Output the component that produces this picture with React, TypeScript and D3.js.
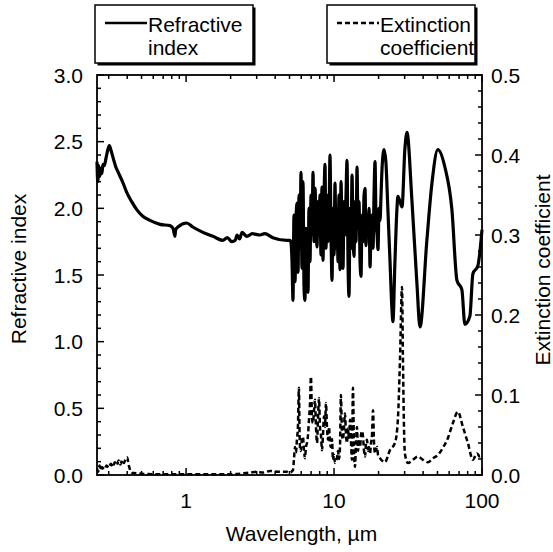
import React from "react";
import * as d3 from "d3";

// wavelength (um), refractive index n
const refractiveIndex: [number, number][] = [
  [0.25, 2.35], [0.253, 2.2], [0.257, 2.32], [0.261, 2.24], [0.265, 2.3], [0.27, 2.26],
  [0.274, 2.33], [0.28, 2.32], [0.288, 2.38], [0.296, 2.44], [0.303, 2.47], [0.31, 2.44],
  [0.321, 2.38], [0.335, 2.31], [0.348, 2.27], [0.375, 2.19], [0.397, 2.12], [0.429, 2.05],
  [0.464, 1.99], [0.51, 1.94], [0.57, 1.91], [0.667, 1.88], [0.778, 1.87], [0.816, 1.85],
  [0.841, 1.79], [0.85, 1.84], [0.88, 1.86], [1.01, 1.89], [1.11, 1.86], [1.3, 1.82],
  [1.52, 1.79], [1.77, 1.76], [1.9, 1.78], [2.04, 1.75], [2.15, 1.76], [2.21, 1.8], [2.3, 1.77],
  [2.39, 1.82], [2.5, 1.8], [2.58, 1.79], [2.8, 1.81], [3.16, 1.8], [3.4, 1.81], [3.86, 1.78],
  [4.81, 1.76],
  [5.04, 1.76], [5.12, 1.74], [5.2, 1.6], [5.28, 1.31], [5.36, 1.95], [5.45, 1.45], [5.53, 1.9],
  [5.62, 2.04], [5.71, 1.52], [5.8, 2.1], [5.89, 1.7], [5.98, 2.27], [6.07, 1.55], [6.17, 2.2],
  [6.27, 1.4], [6.36, 1.31], [6.46, 1.85], [6.57, 1.45], [6.67, 1.37], [6.77, 2.0], [6.88, 1.6],
  [6.99, 2.1], [7.1, 1.8], [7.21, 2.27], [7.32, 1.75], [7.44, 2.15], [7.55, 1.9], [7.67, 1.71],
  [7.79, 2.05], [7.91, 1.8], [8.04, 2.1], [8.16, 1.65], [8.29, 2.16], [8.42, 1.61], [8.55, 2.05],
  [8.69, 2.33], [8.82, 1.7], [8.96, 2.1], [9.1, 1.75], [9.25, 1.9], [9.39, 2.4], [9.54, 1.8],
  [9.69, 1.46], [9.84, 2.0], [10.0, 1.65], [10.15, 2.19], [10.31, 1.7], [10.47, 2.0],
  [10.64, 1.6], [10.8, 2.1], [10.97, 1.54], [11.15, 2.2], [11.32, 1.75], [11.5, 1.55],
  [11.68, 2.05], [11.86, 1.8], [12.05, 2.1], [12.24, 2.36], [12.43, 1.6], [12.63, 1.34],
  [12.82, 2.0], [13.03, 1.7], [13.23, 2.25], [13.44, 1.8], [13.65, 1.64], [13.86, 2.05],
  [14.08, 1.75], [14.3, 2.31], [14.53, 1.85], [14.75, 2.05], [14.99, 1.6], [15.22, 1.49],
  [15.46, 1.95], [15.7, 1.75], [15.95, 2.1], [16.2, 2.15], [16.45, 1.72], [16.71, 1.95],
  [16.97, 1.8], [17.24, 2.0], [17.51, 1.56], [17.78, 1.85], [18.06, 1.95], [18.35, 1.7],
  [18.63, 2.1], [18.93, 2.35], [19.22, 1.9], [19.53, 1.8], [19.83, 1.69], [20.14, 2.0],
  [20.46, 1.91], [20.78, 2.1], [21.11, 2.3],
  [21.77, 2.44], [22.4, 2.35], [23.1, 2.0], [23.9, 1.6], [24.6, 1.25], [25.0, 1.15], [25.8, 1.6],
  [26.6, 1.99], [27.0, 2.09], [27.9, 2.05], [28.8, 2.01], [30.1, 2.44], [31.1, 2.57], [33.6, 2.06],
  [36.3, 1.44], [38.1, 1.11], [42.4, 1.76], [45.9, 2.19], [50.3, 2.44], [56.1, 2.31], [62.6, 1.99],
  [67.7, 1.46], [73.1, 1.39], [76.6, 1.13], [82.8, 1.19], [86.8, 1.51], [93.8, 1.57], [100, 1.84],
];

// wavelength (um), extinction coefficient k
const extinction: [number, number][] = [
  [0.25, 0.008], [0.255, 0.004], [0.26, 0.012], [0.265, 0.006], [0.27, 0.01], [0.28, 0.007],
  [0.29, 0.012], [0.3, 0.009], [0.31, 0.014], [0.32, 0.01], [0.33, 0.016], [0.34, 0.012],
  [0.35, 0.018], [0.36, 0.013], [0.37, 0.019], [0.38, 0.015], [0.39, 0.02], [0.4, 0.022],
  [0.41, 0.012], [0.43, 0.003], [0.47, 0.002], [0.6, 0.001], [1.0, 0.001], [2.0, 0.001],
  [2.7, 0.003], [3.0, 0.004], [3.3, 0.003], [3.7, 0.005], [4.2, 0.004], [4.8, 0.004], [5.0, 0.003],
  [5.27, 0.006], [5.36, 0.02], [5.45, 0.035], [5.53, 0.028], [5.61, 0.044], [5.7, 0.06],
  [5.79, 0.109], [5.85, 0.05], [5.92, 0.03], [5.97, 0.031], [6.07, 0.045], [6.16, 0.048],
  [6.27, 0.03], [6.36, 0.021], [6.46, 0.035], [6.56, 0.04], [6.67, 0.05], [6.77, 0.069],
  [6.88, 0.09], [6.98, 0.123], [7.1, 0.07], [7.2, 0.065], [7.32, 0.08], [7.43, 0.094],
  [7.55, 0.06], [7.67, 0.04], [7.79, 0.07], [7.91, 0.096], [8.04, 0.06], [8.16, 0.05],
  [8.29, 0.031], [8.42, 0.05], [8.55, 0.073], [8.69, 0.06], [8.82, 0.09], [8.96, 0.06],
  [9.1, 0.044], [9.25, 0.06], [9.39, 0.04], [9.53, 0.035], [9.69, 0.045], [9.83, 0.019],
  [10.0, 0.025], [10.14, 0.015], [10.31, 0.018], [10.46, 0.021], [10.64, 0.03], [10.8, 0.02],
  [10.97, 0.035], [11.13, 0.1], [11.32, 0.05], [11.49, 0.044], [11.68, 0.06], [11.85, 0.077],
  [12.05, 0.05], [12.22, 0.04], [12.43, 0.058], [12.63, 0.045], [12.82, 0.069], [13.03, 0.04],
  [13.21, 0.019], [13.42, 0.109], [13.65, 0.03], [13.84, 0.01], [14.08, 0.04], [14.28, 0.06],
  [14.53, 0.03], [14.75, 0.045], [14.99, 0.035], [15.22, 0.05], [15.46, 0.055], [15.7, 0.048],
  [15.95, 0.03], [16.2, 0.023], [16.45, 0.04], [16.71, 0.044], [16.97, 0.03], [17.24, 0.035],
  [17.51, 0.027], [17.78, 0.04], [18.06, 0.05], [18.35, 0.081], [18.63, 0.04], [18.93, 0.027],
  [19.22, 0.03], [19.53, 0.035], [19.83, 0.025], [20.46, 0.021],
  [22.08, 0.016], [23.86, 0.031], [25.8, 0.04], [27.0, 0.069], [27.9, 0.144], [28.8, 0.235],
  [29.2, 0.15], [29.7, 0.06], [30.1, 0.027], [31.6, 0.015], [34.1, 0.019], [36.9, 0.023],
  [39.9, 0.019], [43.1, 0.016], [46.6, 0.021], [50.3, 0.025], [54.4, 0.034], [58.8, 0.046],
  [63.6, 0.065], [68.7, 0.079], [74.3, 0.06], [80.3, 0.04], [86.8, 0.019], [92.4, 0.027],
  [96.8, 0.023], [100, 0.025],
];

const leftTicks = [0, 0.5, 1.0, 1.5, 2.0, 2.5, 3.0];
const rightTicks = [0, 0.1, 0.2, 0.3, 0.4, 0.5];
const xLabels = [1, 10, 100];

const W = 553;
const H = 552;
const margin = { top: 75, right: 71, bottom: 77, left: 97 };
const font = "'Liberation Sans', Arial, sans-serif";

function Legend({ x, y, w, h, dashed, lines }: { x: number; y: number; w: number; h: number; dashed: boolean; lines: string[] }) {
  return (
    <g transform={`translate(${x},${y})`}>
      <rect x={2.5} y={2.5} width={w} height={h} fill="#000" />
      <rect x={0} y={0} width={w} height={h} fill="#fff" stroke="#000" strokeWidth={1.5} />
      <line x1={10} x2={52} y1={18} y2={18} stroke="#000" strokeWidth={2.5}
        strokeDasharray={dashed ? "5 3" : undefined} />
      {lines.map((t, i) => (
        <text key={t} x={53} y={27 + i * 23} fontSize={21} fontFamily={font}>{t}</text>
      ))}
    </g>
  );
}

export default function App() {
  const x = d3.scaleLog().domain([0.25, 100]).range([margin.left, W - margin.right]);
  const yL = d3.scaleLinear().domain([0, 3]).range([H - margin.bottom, margin.top]);
  const yR = d3.scaleLinear().domain([0, 0.5]).range([H - margin.bottom, margin.top]);

  const lineN = d3.line<[number, number]>().x(d => x(d[0])).y(d => yL(d[1])).curve(d3.curveMonotoneX);
  const lineK = d3.line<[number, number]>().x(d => x(d[0])).y(d => yR(d[1])).curve(d3.curveMonotoneX);

  const top = margin.top;
  const bottom = H - margin.bottom;
  const left = margin.left;
  const right = W - margin.right;

  const xTicks = x.ticks().filter(v => v >= 0.25 && v <= 100);
  const isMajor = (v: number) => Math.abs(Math.log10(v) - Math.round(Math.log10(v))) < 1e-6;
  const leftMinor = d3.range(0, 3.0001, 0.1);
  const rightMinor = d3.range(0, 0.5001, 0.02);

  return (
    <svg width={W} height={H} style={{ position: "absolute", left: 0, top: 0, background: "#fff" }}>
      <rect width={W} height={H} fill="#fff" />
      <path d={lineK(extinction) ?? ""} fill="none" stroke="#000" strokeWidth={2.5} strokeDasharray="5 3" />
      <path d={lineN(refractiveIndex) ?? ""} fill="none" stroke="#000" strokeWidth={3.2} strokeLinejoin="round" />

      <rect x={left} y={top} width={right - left} height={bottom - top} fill="none" stroke="#000" strokeWidth={1.8} />

      {xTicks.map(v => {
        const len = isMajor(v) ? 7 : 4;
        return (
          <g key={`xt${v}`}>
            <line x1={x(v)} x2={x(v)} y1={bottom} y2={bottom - len} stroke="#000" strokeWidth={1.5} />
            <line x1={x(v)} x2={x(v)} y1={top} y2={top + len} stroke="#000" strokeWidth={1.5} />
          </g>
        );
      })}
      {leftMinor.map(v => {
        const major = Math.abs(v * 2 - Math.round(v * 2)) < 1e-6;
        return <line key={`lm${v}`} x1={left} x2={left + (major ? 7 : 4)} y1={yL(v)} y2={yL(v)} stroke="#000" strokeWidth={1.5} />;
      })}
      {rightMinor.map(v => {
        const major = Math.abs(v * 10 - Math.round(v * 10)) < 1e-6;
        return <line key={`rm${v}`} x1={right} x2={right - (major ? 7 : 4)} y1={yR(v)} y2={yR(v)} stroke="#000" strokeWidth={1.5} />;
      })}

      {leftTicks.map(v => (
        <text key={`ll${v}`} x={left - 14} y={yL(v) + 7.5} textAnchor="end" fontSize={21} fontFamily={font}>{v.toFixed(1)}</text>
      ))}
      {rightTicks.map(v => (
        <text key={`rl${v}`} x={right + 9} y={yR(v) + 7.5} fontSize={21} fontFamily={font}>{v.toFixed(1)}</text>
      ))}
      {xLabels.map(v => (
        <text key={`xl${v}`} x={x(v)} y={bottom + 33} textAnchor="middle" fontSize={21} fontFamily={font}>{v}</text>
      ))}

      <text x={(left + right) / 2 + 12} y={bottom + 66} textAnchor="middle" fontSize={21} fontFamily={font}>Wavelength, µm</text>
      <text transform={`translate(26,${(top + bottom) / 2 - 6}) rotate(-90)`} textAnchor="middle" fontSize={21} fontFamily={font}>Refractive index</text>
      <text transform={`translate(550,${(top + bottom) / 2 - 5}) rotate(-90)`} textAnchor="middle" fontSize={21} fontFamily={font}>Extinction coefficient</text>

      <Legend x={95} y={5} w={158} h={58} dashed={false} lines={["Refractive", "index"]} />
      <Legend x={327} y={5} w={148} h={58} dashed={true} lines={["Extinction", "coefficient"]} />
    </svg>
  );
}
